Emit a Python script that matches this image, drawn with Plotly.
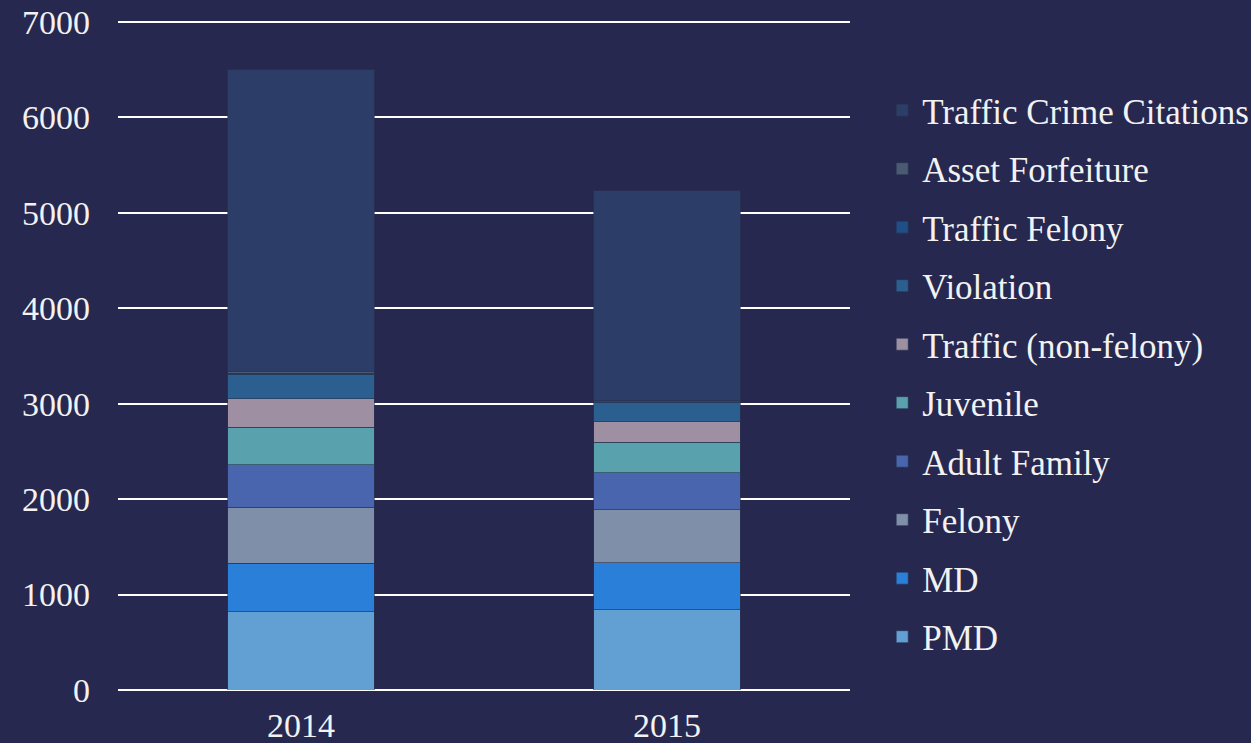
import plotly.graph_objects as go

years = ["2014", "2015"]
series_names = [
    "PMD", "MD", "Felony", "Adult Family", "Juvenile",
    "Traffic (non-felony)", "Violation", "Traffic Felony",
    "Asset Forfeiture", "Traffic Crime Citations",
]
pmd = [820, 841]
md = [508, 493]
felony = [586, 556]
adult_family = [444, 384]
juvenile = [394, 322]
traffic_non_felony = [297, 216]
violation = [259, 203]
traffic_felony = [10, 5]
asset_forfeiture = [20, 10]
traffic_crime_citations = [3159, 2199]
y_ticks = [0, 1000, 2000, 3000, 4000, 5000, 6000, 7000]

values = [pmd, md, felony, adult_family, juvenile, traffic_non_felony,
          violation, traffic_felony, asset_forfeiture, traffic_crime_citations]
colors = ["#629fd3", "#2a7fd8", "#7f8fa9", "#4865ad", "#58a1ad",
          "#9e90a2", "#2a5f8f", "#1f4f86", "#4a5a72", "#2c3e68"]

fig = go.Figure()
n = len(series_names)
for i, (name, vals, col) in enumerate(zip(series_names, values, colors)):
    fig.add_trace(go.Bar(
        x=years, y=vals, name=name, legendgroup=name, legendrank=n - i,
        marker=dict(color=col, line=dict(color="rgba(40,50,80,0.6)", width=1)),
    ))

font_family = "Liberation Serif"
fig.update_layout(
    barmode="stack",
    bargap=0.6,
    width=1251, height=743,
    margin=dict(l=118, r=401, t=17, b=53, autoexpand=False),
    paper_bgcolor="#27284f",
    plot_bgcolor="rgba(0,0,0,0)",
    font=dict(family=font_family, color="#f2f2f2", size=30),
    showlegend=True,
    legend=dict(
        x=1.044, xanchor="left", y=0.905, yanchor="top",
        traceorder="grouped", tracegroupgap=10,
        font=dict(family=font_family, size=35, color="#f2f2f2"),
        bgcolor="rgba(0,0,0,0)",
    ),
    xaxis=dict(showgrid=False, showline=False, ticks="", ticklabelstandoff=12,
               automargin=False,
               tickfont=dict(family=font_family, size=34, color="#f2f2f2")),
    yaxis=dict(range=[0, 7050], tickvals=y_ticks,
               showgrid=True, gridcolor="#ffffff",
               gridwidth=2, zeroline=True, zerolinecolor="#ffffff", zerolinewidth=2,
               showline=False, ticks="", ticklabelstandoff=27, automargin=False,
               tickfont=dict(family=font_family, size=34, color="#f2f2f2")),
)

fig.write_html("out.html", config={"displayModeBar": False},
               post_script="document.body.style.margin='0';")
